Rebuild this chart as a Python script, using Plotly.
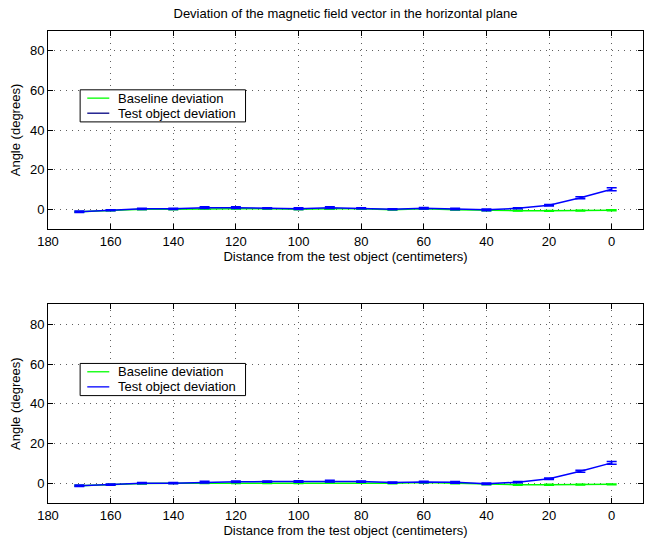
import plotly.graph_objects as go

# Measurement positions (cm from the test object)
distance = [170, 160, 150, 140, 130, 120, 110, 100, 90, 80, 70, 60, 50, 40, 30, 20, 10, 0]

# Upper panel: deviation angles (degrees)
baseline_top = [-1.3, -0.5, 0.0, 0.0, 0.3, 0.3, 0.2, 0.0, 0.2, 0.2, -0.2, 0.2, -0.2, -0.6, -0.7, -0.8, -0.7, -0.5]
test_top = [-1.3, -0.5, 0.2, 0.2, 0.8, 0.8, 0.5, 0.3, 0.8, 0.5, 0.0, 0.5, 0.1, -0.3, 0.5, 2.0, 5.8, 10.1]
baseline_top_err = [0.2] * 18
test_top_err = [0.4, 0.3, 0.3, 0.3, 0.4, 0.4, 0.3, 0.4, 0.4, 0.3, 0.3, 0.4, 0.4, 0.4, 0.3, 0.4, 0.5, 0.7]

# Lower panel: deviation angles (degrees)
baseline_bot = [-1.3, -0.7, -0.2, 0.0, 0.0, 0.0, 0.0, 0.0, 0.2, 0.2, -0.1, 0.3, -0.1, -0.6, -0.8, -0.8, -0.7, -0.6]
test_bot = [-1.3, -0.7, 0.0, 0.0, 0.5, 0.7, 0.8, 0.8, 1.0, 0.8, 0.3, 0.6, 0.4, -0.3, 0.5, 2.2, 6.0, 10.2]
baseline_bot_err = [0.2] * 18
test_bot_err = [0.4, 0.3, 0.3, 0.3, 0.4, 0.4, 0.3, 0.4, 0.4, 0.3, 0.3, 0.4, 0.4, 0.4, 0.3, 0.4, 0.5, 0.7]

x_ticks = [0, 20, 40, 60, 80, 100, 120, 140, 160, 180]
y_ticks = [0, 20, 40, 60, 80]
legend_labels = ["Baseline deviation", "Test object deviation"]

GREEN = "#00FF00"
BLUE = "#0000FF"
NAVY = "#000080"
FONT = "Liberation Sans, Arial, Helvetica, sans-serif"
FS = 13

fig = go.Figure()


def add_panel(xa, ya, base, base_err, test, test_err):
    fig.add_trace(go.Scatter(
        x=distance, y=base, mode="lines", name=legend_labels[0],
        line=dict(color=GREEN, width=1.5),
        error_y=dict(type="data", array=base_err, color=GREEN, width=5, thickness=1.5),
        xaxis=xa, yaxis=ya, showlegend=False,
    ))
    fig.add_trace(go.Scatter(
        x=distance, y=test, mode="lines", name=legend_labels[1],
        line=dict(color=BLUE, width=1.5),
        error_y=dict(type="data", array=test_err, color=BLUE, width=5, thickness=1.5),
        xaxis=xa, yaxis=ya, showlegend=False,
    ))


def add_legend_box(xa, ya, colors):
    """Boxed legend in the upper-left area of a panel (axis-domain units)."""
    xr, yr = f"{xa} domain", f"{ya} domain"
    fig.add_shape(type="rect", xref=xr, yref=yr, x0=0.054, x1=0.332, y0=0.541, y1=0.703,
                  fillcolor="white", line=dict(color="black", width=1), layer="above")
    for label, color, yy in zip(legend_labels, colors, [0.661, 0.585]):
        fig.add_shape(type="line", xref=xr, yref=yr, x0=0.066, x1=0.103, y0=yy, y1=yy,
                      line=dict(color=color, width=1.3), layer="above")
        fig.add_annotation(xref=xr, yref=yr, x=0.114, y=yy, text=label, showarrow=False,
                           xanchor="left", yanchor="middle",
                           font=dict(size=FS, color="black", family=FONT))


add_panel("x", "y", baseline_top, baseline_top_err, test_top, test_top_err)
add_panel("x2", "y2", baseline_bot, baseline_bot_err, test_bot, test_bot_err)
add_legend_box("x", "y", [GREEN, NAVY])
add_legend_box("x2", "y2", [GREEN, BLUE])

axis_common = dict(
    showline=True, linecolor="black", linewidth=1, mirror="ticks",
    ticks="inside", ticklen=5, tickcolor="black",
    showgrid=True, gridcolor="#606060", griddash="1px,5px", gridwidth=1,
    zeroline=False, tickfont=dict(size=FS, color="black", family=FONT),
)

xcommon = dict(axis_common, range=[180, -10], tickvals=x_ticks,
               title=dict(text="Distance from the test object (centimeters)",
                          font=dict(size=FS, color="black", family=FONT), standoff=1))
ycommon = dict(axis_common, range=[-10, 90], tickvals=y_ticks,
               title=dict(text="Angle (degrees)",
                          font=dict(size=FS, color="black", family=FONT), standoff=6))

fig.update_layout(
    width=645, height=540,
    margin=dict(l=48, r=2, t=31, b=37),
    paper_bgcolor="white", plot_bgcolor="white",
    font=dict(family=FONT, color="black"),
    showlegend=False,
    title=dict(text="Deviation of the magnetic field vector in the horizontal plane",
               x=0.5, xref="paper", xanchor="center", y=0.976, yanchor="middle",
               font=dict(size=FS, color="black", family=FONT)),
    xaxis=dict(xcommon, domain=[0, 1], anchor="y"),
    yaxis=dict(ycommon, domain=[0.5804, 1.0], anchor="x"),
    xaxis2=dict(xcommon, domain=[0, 1], anchor="y2"),
    yaxis2=dict(ycommon, domain=[0.0, 0.4206], anchor="x2"),
)

fig.write_html("out.html")
